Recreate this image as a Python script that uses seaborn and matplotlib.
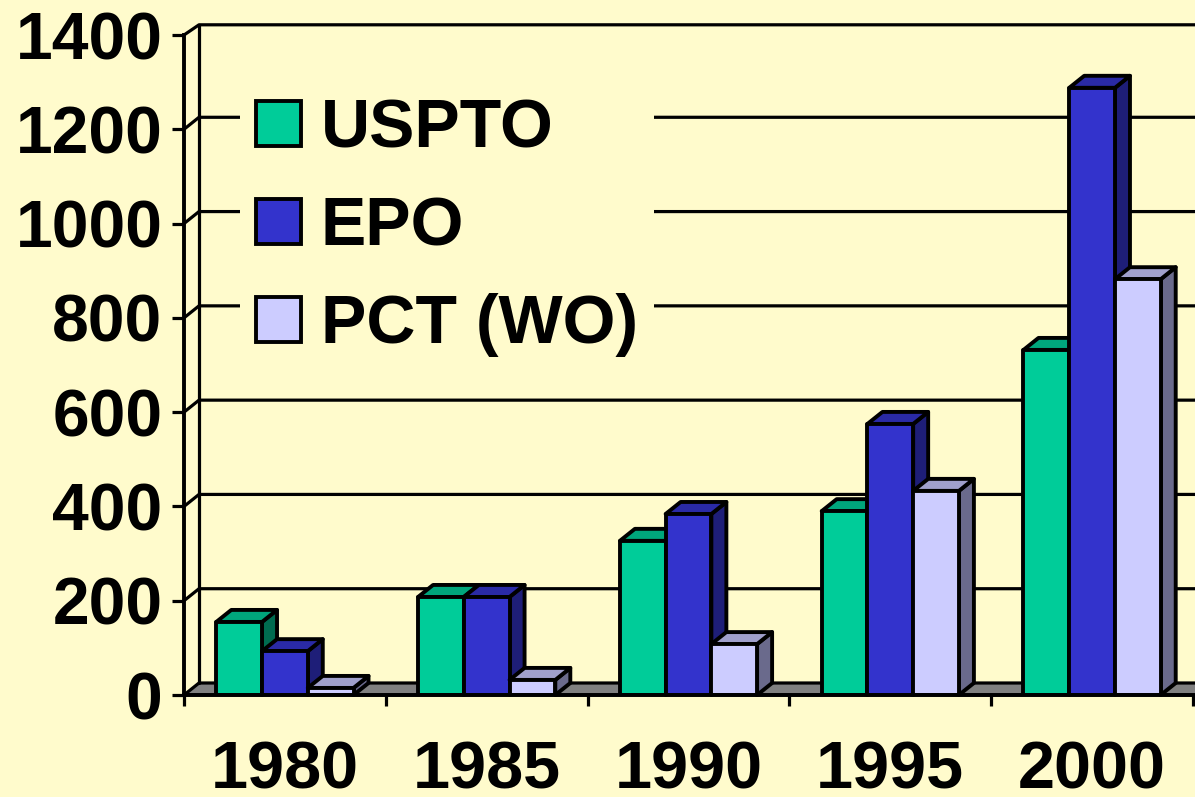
import matplotlib
matplotlib.use("Agg")
import matplotlib.pyplot as plt
from matplotlib.patches import Polygon
import pandas as pd
import seaborn as sns

years = ["1980", "1985", "1990", "1995", "2000"]
offices = ["USPTO", "EPO", "PCT (WO)"]
uspto = [155, 208, 327, 390, 732]
epo = [93, 208, 384, 575, 1288]
pct = [15, 32, 108, 433, 882]
y_ticks = [0, 200, 400, 600, 800, 1000, 1200, 1400]

BG = "#FFFBCC"
front = ["#00CC99", "#3333CC", "#CCCCFF"]
top_c = ["#00A67C", "#2A2AA6", "#A0A0CC"]
side_c = ["#006B50", "#1E1E78", "#6A6A8C"]

W, H = 1195, 797
AX_L, AX_R, AX_T, AX_B = 184, 1193, 35, 695
LW = 2.3
BAR_LW = 2.8

sns.set_theme(style="white")
plt.rcParams["font.family"] = ["Liberation Sans", "DejaVu Sans"]
plt.rcParams["font.weight"] = "bold"
plt.rcParams["text.color"] = "black"

fig = plt.figure(figsize=(W / 100, H / 100), dpi=100, facecolor=BG)
ax = fig.add_axes([AX_L / W, 1 - AX_B / H, (AX_R - AX_L) / W, (AX_B - AX_T) / H])
ax.set_facecolor("none")

df = pd.DataFrame({
    "year": years * 3,
    "office": [o for o in offices for _ in years],
    "value": uspto + epo + pct,
})
sns.barplot(data=df, x="year", y="value", hue="office", hue_order=offices,
            palette=front, width=0.68, gap=0, edgecolor="black", linewidth=BAR_LW,
            saturation=1, ax=ax)
ax.set_xlim(-0.5, 4.5)
ax.set_ylim(0, 1400)
ax.set_xlabel("")
ax.set_ylabel("")

px_x = (AX_R - AX_L) / 5
px_y = (AX_B - AX_T) / 1400
DX = 15 / px_x
DY = 12 / px_y
x0, x1 = -0.5, 4.5

# floor and back wall
ax.add_patch(Polygon([(x0, 0), (x0 + DX, DY), (x1 + DX, DY), (x1 + DX, 0)],
                     closed=True, fc="#808080", ec="black", lw=LW, clip_on=False, zorder=1))
ax.plot([x0 + DX, x0 + DX], [DY, 1400 + DY * 0.85], color="black", lw=LW, clip_on=False, zorder=1.2)
for v in y_ticks[1:]:
    yb = v + (DY * 0.85 if v == 1400 else DY)
    ax.plot([x0, x0 + DX, x1 + DX], [v, yb, yb], color="black", lw=LW,
            clip_on=False, zorder=1.2, solid_joinstyle="round")

# 3D faces built from the bars seaborn drew
for i, cont in enumerate(ax.containers):
    z = 3 + i
    for bar in cont:
        bx, bw, bh = bar.get_x(), bar.get_width(), bar.get_height()
        bar.set_zorder(z + 0.5)
        bar.set_joinstyle("round")
        r = bx + bw
        ax.add_patch(Polygon([(r, 0), (r + DX, DY), (r + DX, bh + DY), (r, bh)],
                             closed=True, fc=side_c[i], ec="black", lw=BAR_LW,
                             joinstyle="round", clip_on=False, zorder=z))
        ax.add_patch(Polygon([(bx, bh), (bx + DX, bh + DY), (r + DX, bh + DY), (r, bh)],
                             closed=True, fc=top_c[i], ec="black", lw=BAR_LW,
                             joinstyle="round", clip_on=False, zorder=z))

for s in ["top", "right"]:
    ax.spines[s].set_visible(False)
for s in ["left", "bottom"]:
    ax.spines[s].set_color("black")
    ax.spines[s].set_linewidth(BAR_LW)
    ax.spines[s].set_zorder(8)

ax.set_yticks(y_ticks)
ax.set_yticklabels([str(v) for v in y_ticks], fontsize=47.5, fontweight="bold", color="black")
ax.tick_params(axis="y", left=True, length=8.5, width=LW, pad=7, color="black")
ax.set_xticks([x0 + k for k in range(6)])
ax.set_xticklabels([])
ax.set_xticks(range(5), minor=True)
ax.set_xticklabels(years, minor=True, fontsize=48, fontweight="bold", color="black")
ax.tick_params(axis="x", which="major", bottom=True, length=8, width=LW, color="black")
ax.tick_params(axis="x", which="minor", bottom=False, length=0, pad=33)

handles, labels = ax.get_legend_handles_labels()
leg = ax.legend(handles, labels, loc="upper left",
                bbox_to_anchor=((240 - AX_L) / (AX_R - AX_L), (AX_B - 81) / (AX_B - AX_T)),
                borderaxespad=0, borderpad=0.24, frameon=True, facecolor=BG, edgecolor="none",
                framealpha=1, fancybox=False, title=None,
                handlelength=0.65, handleheight=0.65, handletextpad=0.3, labelspacing=0.5,
                labelcolor="black",
                prop={"family": "Liberation Sans", "weight": "bold", "size": 49})
leg.set_zorder(20)

fig.savefig("out.png", dpi=100, facecolor=BG)
